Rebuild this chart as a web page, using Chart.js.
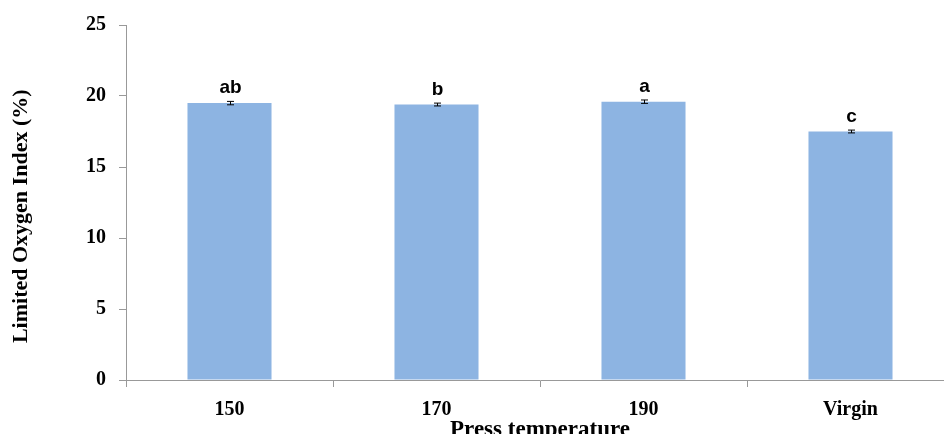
<!DOCTYPE html>
<html>
<head>
<meta charset="utf-8">
<script src="https://cdn.jsdelivr.net/npm/chart.js@4"></script>
<style>
html, body { margin: 0; padding: 0; overflow: hidden; background: #fff; width: 944px; height: 434px; }
#grafico { position: absolute; left: 0; top: 0; }
</style>
</head>
<body>
<canvas id="grafico" width="962" height="444"></canvas>
<script>
const categorias = ['150', '170', '190', 'Virgin'];
const loi = [19.5, 19.4, 19.6, 17.5];
const erros = [0.12, 0.1, 0.12, 0.1];
const letras = ['ab', 'b', 'a', 'c'];

const serif = '"Liberation Serif", "Times New Roman", serif';

// barras de erro + letras de significancia
const barrasErro = {
  id: 'barrasErro',
  afterDatasetsDraw(chart) {
    const ctx = chart.ctx;
    const y = chart.scales.y;
    const meta = chart.getDatasetMeta(0);
    ctx.save();
    ctx.strokeStyle = '#000';
    ctx.lineWidth = 1;
    meta.data.forEach((bar, i) => {
      const cx = Math.round(bar.x) + 0.5;
      const top = y.getPixelForValue(loi[i] + erros[i]);
      const bot = y.getPixelForValue(loi[i] - erros[i]);
      ctx.beginPath();
      ctx.moveTo(cx, top); ctx.lineTo(cx, bot);
      ctx.moveTo(cx - 3.5, top); ctx.lineTo(cx + 3.5, top);
      ctx.moveTo(cx - 3.5, bot); ctx.lineTo(cx + 3.5, bot);
      ctx.stroke();
      ctx.fillStyle = '#000';
      ctx.font = 'bold 19px "Liberation Sans", Arial, sans-serif';
      ctx.textAlign = 'center';
      ctx.textBaseline = 'alphabetic';
      ctx.fillText(letras[i], cx, top - 8);
    });
    ctx.restore();
  }
};

new Chart(document.getElementById('grafico'), {
  type: 'bar',
  data: {
    labels: categorias,
    datasets: [{
      label: 'LOI',
      data: loi,
      backgroundColor: '#8DB4E2',
      borderWidth: 0,
      categoryPercentage: 1,
      barPercentage: 0.406
    }]
  },
  options: {
    responsive: false,
    animation: false,
    layout: { padding: { top: 21, right: 8, left: 0, bottom: 0 } },
    plugins: { legend: { display: false }, tooltip: { enabled: false } },
    scales: {
      x: {
        grid: { drawOnChartArea: false, tickLength: 7, color: '#999' },
        border: { color: '#999' },
        ticks: { color: '#000', font: { family: serif, size: 20, weight: 'bold' }, padding: 11 },
        title: { display: true, text: 'Press temperature', color: '#000',
                 font: { family: serif, size: 23, weight: 'bold' }, padding: { top: 0, bottom: 0 } },
        afterFit: s => { s.height = 64; }
      },
      y: {
        min: 0, max: 25,
        grid: { drawOnChartArea: false, tickLength: 7, color: '#999' },
        border: { color: '#999' },
        ticks: { stepSize: 5, color: '#000', font: { family: serif, size: 20, weight: 'bold' }, padding: 13 },
        title: { display: true, text: 'Limited Oxygen Index (%)     ', color: '#000',
                 font: { family: serif, size: 22, weight: 'bold' }, padding: { top: 8, bottom: 4 } },
        afterFit: s => { s.width = 126; }
      }
    }
  },
  plugins: [barrasErro]
});
</script>
</body>
</html>
